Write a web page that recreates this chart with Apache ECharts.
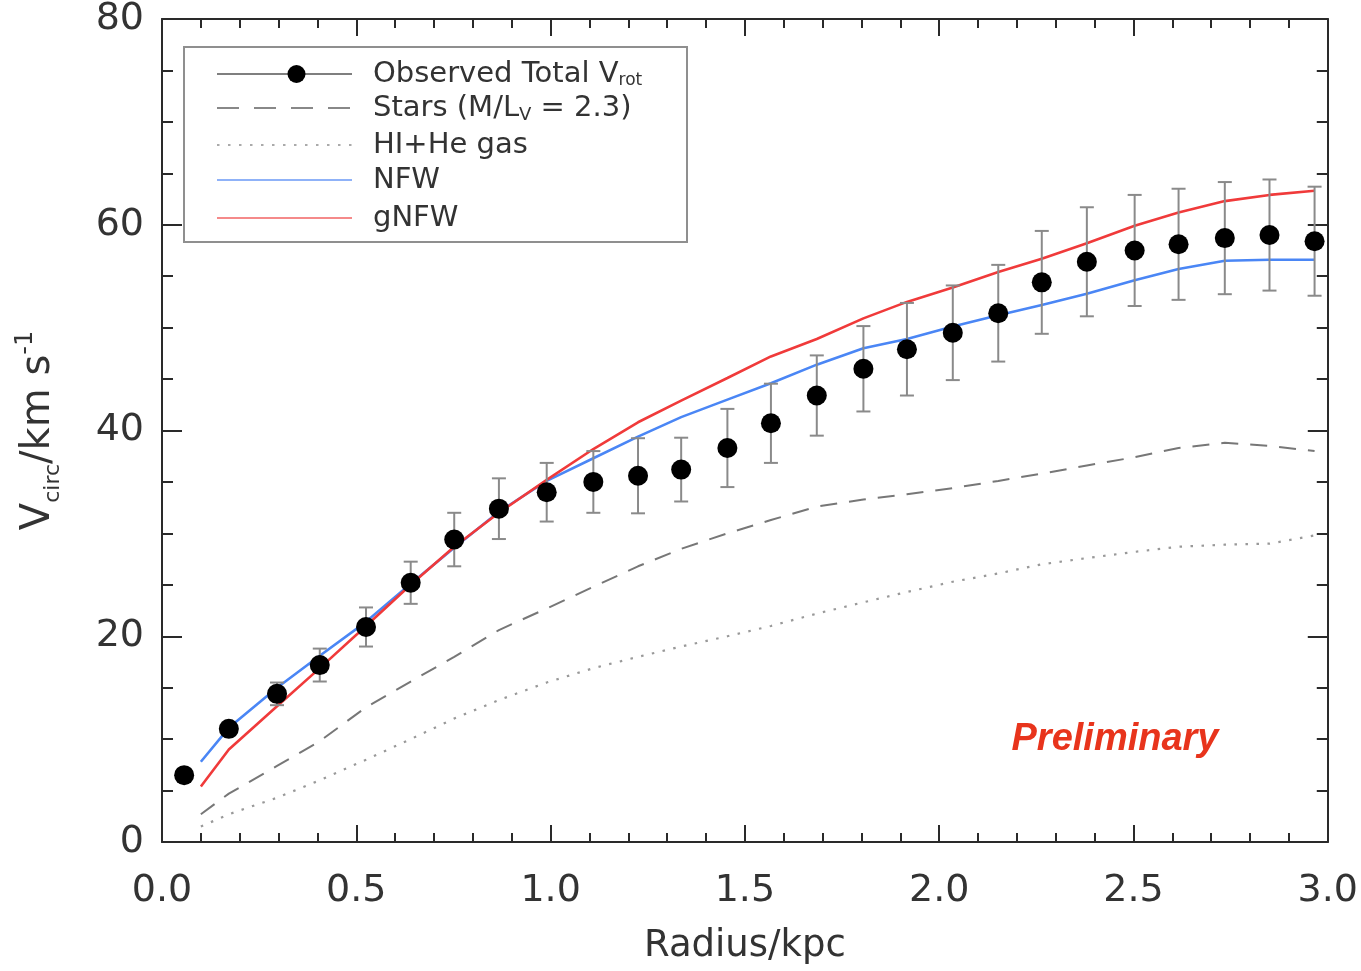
<!DOCTYPE html>
<html>
<head>
<meta charset="utf-8">
<script src="https://cdn.jsdelivr.net/npm/echarts@6/dist/echarts.min.js"></script>
<style>html,body{margin:0;padding:0;background:#fff}#c{width:1361px;height:971px}</style>
</head>
<body>
<div id="c"></div>
<script>
// Observed rotation curve
var obsR = [0.057,0.172,0.296,0.406,0.525,0.640,0.752,0.867,0.990,1.110,1.225,1.336,1.455,1.567,1.685,1.805,1.917,2.035,2.152,2.264,2.380,2.503,2.616,2.735,2.850,2.966];
var obsV = [6.5,11.0,14.4,17.2,20.9,25.2,29.4,32.4,34.0,35.0,35.6,36.2,38.3,40.7,43.4,46.0,47.9,49.5,51.4,54.4,56.4,57.5,58.1,58.7,59.0,58.4];
var obsErr = [0,0.5,1.1,1.6,1.9,2.05,2.6,2.95,2.85,3.0,3.65,3.1,3.8,3.85,3.9,4.15,4.5,4.6,4.7,5.0,5.3,5.4,5.4,5.45,5.4,5.3];
// Model curves
var modelR = [0.1,0.172,0.296,0.406,0.525,0.640,0.752,0.867,0.990,1.110,1.225,1.336,1.455,1.567,1.685,1.805,1.917,2.035,2.152,2.264,2.380,2.503,2.616,2.735,2.850,2.966];
var nfwV = [7.8,11.1,15.0,18.1,21.4,25.1,28.6,32.1,35.1,37.3,39.4,41.3,43.0,44.6,46.4,48.0,48.9,50.1,51.2,52.2,53.3,54.6,55.7,56.5,56.6,56.6];
var gnfwV = [5.4,9.0,13.2,16.9,21.0,25.0,28.7,32.0,35.2,38.2,40.8,42.9,45.1,47.2,48.9,50.9,52.5,53.9,55.4,56.7,58.2,59.9,61.2,62.3,62.9,63.3];
var starsV = [2.7,4.7,7.4,9.8,13.1,15.6,18.0,20.6,22.7,24.8,26.8,28.5,30.0,31.3,32.6,33.3,33.8,34.4,35.1,35.8,36.6,37.4,38.3,38.8,38.5,38.0];
var gasV = [1.5,2.7,4.3,6.0,8.0,10.0,12.0,13.8,15.5,16.9,18.0,19.0,20.0,21.0,22.2,23.3,24.3,25.3,26.1,27.0,27.6,28.2,28.7,28.9,29.0,29.8];
var xTicks = ['0.0','0.5','1.0','1.5','2.0','2.5','3.0'];
var yTicks = ['0','20','40','60','80'];

function pairs(xs, ys){ return xs.map(function(x,i){ return [x, ys[i]]; }); }
var errData = obsR.map(function(x,i){ return [x, obsV[i]-obsErr[i], obsV[i]+obsErr[i]]; });

var chart = echarts.init(document.getElementById('c'), null, {renderer:'canvas'});
var FONT = 'DejaVu Sans';
var axisCol = '#2a2a2a';

function xAx(pos, show){
  return {
    type:'value', position:pos, min:0, max:3, interval:0.5,
    axisLine:{show:true, onZero:false, lineStyle:{color:axisCol, width:2}},
    axisTick:{show:true, inside:true, length:17, lineStyle:{color:axisCol, width:2}},
    minorTick:{show:true, splitNumber:5, length:9, lineStyle:{color:axisCol, width:2}},
    splitLine:{show:false},
    axisLabel:{show:show, fontFamily:FONT, fontSize:38, color:'#333', margin:30,
      formatter:function(v){ var s=v.toFixed(1); return xTicks.indexOf(s)>=0?s:''; }},
    name: show ? 'Radius/kpc' : '', nameLocation:'middle', nameGap:86,
    nameTextStyle:{fontFamily:FONT, fontSize:37, color:'#333'}
  };
}
function yAx(pos, show){
  return {
    type:'value', position:pos, min:0, max:80, interval:20,
    axisLine:{show:true, onZero:false, lineStyle:{color:axisCol, width:2}},
    axisTick:{show:true, inside:true, length:20, lineStyle:{color:axisCol, width:2}},
    minorTick:{show:true, splitNumber:4, length:11, lineStyle:{color:axisCol, width:2}},
    splitLine:{show:false},
    axisLabel:{show:show, fontFamily:FONT, fontSize:38, color:'#333', margin:18,
      formatter:function(v){ var s=String(v); return yTicks.indexOf(s)>=0?s:''; }},
    name: show ? '{m|V}{s|circ}{m|/km s}{p|-1}' : '', nameLocation:'middle', nameGap:98, nameRotate:90,
    nameTextStyle:{fontFamily:FONT, fontSize:40, color:'#333',
      rich:{m:{fontFamily:FONT,fontSize:40,color:'#333',verticalAlign:'middle',lineHeight:50},
            s:{fontFamily:FONT,fontSize:22,color:'#333',verticalAlign:'bottom',lineHeight:22},
            p:{fontFamily:FONT,fontSize:24,color:'#333',verticalAlign:'top',lineHeight:24}}}
  };
}

var legX0 = 217, legX1 = 352, legTx = 373;
var legRows = [74,108,145,180,218];
var legText = {fontFamily:FONT, fontSize:29, fill:'#333'};

var option = {
  backgroundColor:'#fff',
  animation:false,
  grid:{left:162, right:33, top:14, bottom:129, containLabel:false},
  xAxis:[xAx('bottom', true), xAx('top', false)],
  yAxis:[yAx('left', true), yAx('right', false)],
  series:[
    {type:'line', name:'HI+He gas', data:pairs(modelR, gasV), showSymbol:false, symbol:'none',
     lineStyle:{color:'#999', width:2.2, type:[2.5,8.5]}, z:2},
    {type:'line', name:'Stars', data:pairs(modelR, starsV), showSymbol:false, symbol:'none',
     lineStyle:{color:'#777', width:2, type:[17,12]}, z:2},
    {type:'line', name:'NFW', data:pairs(modelR, nfwV), showSymbol:false, symbol:'none',
     lineStyle:{color:'#4a86f5', width:2.6}, z:3},
    {type:'line', name:'gNFW', data:pairs(modelR, gnfwV), showSymbol:false, symbol:'none',
     lineStyle:{color:'#f03a3a', width:2.6}, z:3},
    {type:'custom', name:'err', data:errData, z:4,
     renderItem:function(params, api){
       var x = api.value(0), lo = api.value(1), hi = api.value(2);
       if (hi - lo <= 0) return null;
       var p1 = api.coord([x, lo]), p2 = api.coord([x, hi]);
       var cw = 7;
       var st = {stroke:'#8a8a8a', lineWidth:2};
       return {type:'group', children:[
         {type:'line', shape:{x1:p1[0], y1:p1[1], x2:p2[0], y2:p2[1]}, style:st},
         {type:'line', shape:{x1:p1[0]-cw, y1:p1[1], x2:p1[0]+cw, y2:p1[1]}, style:st},
         {type:'line', shape:{x1:p2[0]-cw, y1:p2[1], x2:p2[0]+cw, y2:p2[1]}, style:st}
       ]};
     }},
    {type:'scatter', name:'Observed', data:pairs(obsR, obsV), symbol:'circle', symbolSize:20,
     itemStyle:{color:'#000', opacity:1}, z:5}
  ],
  graphic:[
    {type:'rect', shape:{x:184, y:47, width:503, height:195}, style:{fill:'#fff', stroke:'#8f8f8f', lineWidth:2}, z:10},
    {type:'line', shape:{x1:legX0, y1:legRows[0], x2:legX1, y2:legRows[0]}, style:{stroke:'#555', lineWidth:1.6}, z:11},
    {type:'circle', shape:{cx:(legX0+legX1)/2+12, cy:legRows[0], r:9}, style:{fill:'#000'}, z:12},
    {type:'line', shape:{x1:legX0, y1:legRows[1], x2:legX1, y2:legRows[1]}, style:{stroke:'#888', lineWidth:2, lineDash:[22,15]}, z:11},
    {type:'line', shape:{x1:legX0, y1:legRows[2], x2:legX1, y2:legRows[2]}, style:{stroke:'#aaa', lineWidth:2.2, lineDash:[2.5,8.5]}, z:11},
    {type:'line', shape:{x1:legX0, y1:legRows[3], x2:legX1, y2:legRows[3]}, style:{stroke:'#8fb2f8', lineWidth:2}, z:11},
    {type:'line', shape:{x1:legX0, y1:legRows[4], x2:legX1, y2:legRows[4]}, style:{stroke:'#f58a8a', lineWidth:2}, z:11},
    {type:'text', x:legTx, y:legRows[0], z:12, style:{text:'{m|Observed Total V}{s|rot}', verticalAlign:'middle',
      rich:{m:{fontFamily:FONT,fontSize:29,fill:'#333'}, s:{fontFamily:FONT,fontSize:17,fill:'#333',padding:[14,0,0,0]}}}},
    {type:'text', x:legTx, y:legRows[1], z:12, style:{text:'{m|Stars (M/L}{s|V}{m| = 2.3)}', verticalAlign:'middle',
      rich:{m:{fontFamily:FONT,fontSize:29,fill:'#333'}, s:{fontFamily:FONT,fontSize:18,fill:'#333',padding:[14,0,0,0]}}}},
    {type:'text', x:legTx, y:legRows[2], z:12, style:Object.assign({text:'HI+He gas', verticalAlign:'middle'}, legText)},
    {type:'text', x:legTx, y:legRows[3], z:12, style:Object.assign({text:'NFW', verticalAlign:'middle'}, legText)},
    {type:'text', x:legTx, y:legRows[4], z:12, style:Object.assign({text:'gNFW', verticalAlign:'middle'}, legText)},
    {type:'text', x:1115, y:740, z:12, style:{text:'Preliminary', align:'center', verticalAlign:'middle',
      fontFamily:'Liberation Sans', fontWeight:'bold', fontStyle:'italic', fontSize:38, fill:'#e8341c'}}
  ]
};
chart.setOption(option);
</script>
</body>
</html>
